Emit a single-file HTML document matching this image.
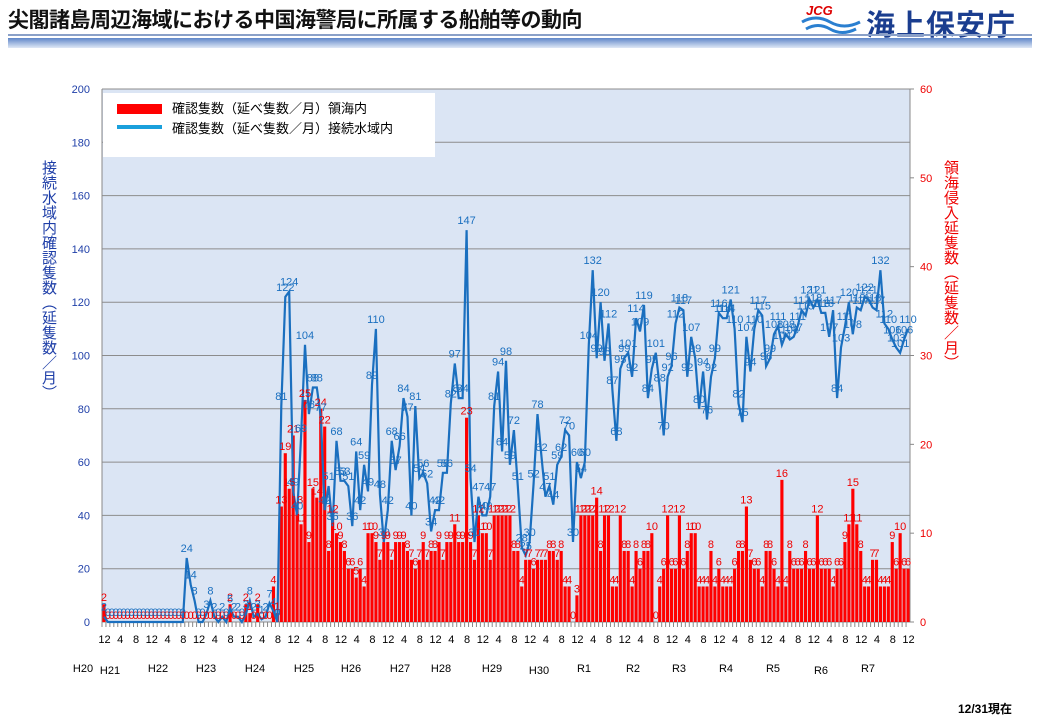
<!DOCTYPE html>
<html><head><meta charset="utf-8">
<style>
body{margin:0;width:1040px;height:720px;background:#fff;overflow:hidden;font-family:"Liberation Sans","Noto Sans CJK JP",sans-serif;position:relative}
.title{position:absolute;left:8px;top:4px;font-size:21px;font-weight:bold;color:#111;letter-spacing:-0.5px}
.logo{position:absolute;left:866px;top:2px;font-size:29px;font-weight:bold;color:#1a3d8f;letter-spacing:1px}
.jcg{position:absolute;left:806px;top:3px;font-size:13px;font-weight:bold;font-style:italic;color:#d00}
.bar1{position:absolute;left:8px;top:34px;width:1024px;height:2px;background:#8aa0c8}
.bar2{position:absolute;left:8px;top:38px;width:1024px;height:10px;background:linear-gradient(#5f86c8,#dfe8f6)}
.vt{position:absolute;writing-mode:vertical-rl;font-size:15px}
.note{position:absolute;left:958px;top:700px;font-size:12px;font-weight:bold}
</style></head><body>
<div class="title">尖閣諸島周辺海域における中国海警局に所属する船舶等の動向</div>
<div class="jcg">JCG</div>
<svg style="position:absolute;left:800px;top:16px" width="62" height="20"><path d="M2 6 Q16 -2 30 6 Q44 14 60 6" stroke="#2a7fd0" stroke-width="3" fill="none"/><path d="M6 13 Q18 6 30 13 Q42 20 56 13" stroke="#2a7fd0" stroke-width="3" fill="none"/></svg>
<div class="logo">海上保安庁</div>
<div class="bar1"></div><div class="bar2"></div>
<div class="vt" style="left:38px;top:160px;color:#1f3fa8">接続水域内確認隻数（延隻数／月）</div>
<div class="vt" style="left:940px;top:160px;color:#e00">領海侵入延隻数（延隻数／月）</div>
<div class="note">12/31現在</div>
<svg id="c" style="position:absolute;left:0;top:0" width="1040" height="720"></svg>
<script>
var red=[2,
0,0,0,0,0,0,0,0,0,0,0,0,
0,0,0,0,0,0,0,0,0,0,0,0,
0,0,0,0,0,0,0,2,0,0,0,2,
1,0,2,0,0,0,4,1,13,19,15,21,
13,11,25,9,15,14,24,22,8,12,10,9,
8,6,6,5,6,4,10,10,9,7,9,9,
7,9,9,9,8,7,6,7,9,7,8,8,
9,7,9,9,11,9,9,23,9,7,12,10,
10,7,12,12,12,12,12,8,8,4,7,7,
6,7,7,7,8,8,7,8,4,4,0,3,
12,12,12,12,14,8,12,12,4,4,12,8,
8,4,8,6,8,8,10,0,4,6,12,6,
6,12,6,8,10,10,4,4,4,8,4,6,
4,4,4,6,8,8,13,7,6,6,4,8,
8,6,4,16,4,8,6,6,6,8,6,6,
12,6,6,6,4,6,6,9,11,15,11,8,
4,4,7,7,4,4,4,9,6,10,6,6];
var blue=[2,
0,0,0,0,0,0,0,0,0,0,0,0,
0,0,0,0,0,0,0,0,24,14,8,0,
0,3,8,2,0,2,0,5,2,2,0,3,
8,2,3,1,2,7,4,0,81,122,124,49,
40,69,104,78,88,88,77,42,51,36,68,53,
53,51,36,64,42,59,49,89,110,48,30,42,
68,57,66,84,77,40,81,54,56,52,34,42,
42,56,56,82,97,84,84,147,54,30,47,40,
40,47,81,94,64,98,59,72,51,28,25,30,
52,78,62,47,51,44,59,62,72,70,30,60,
54,60,104,132,99,120,98,112,87,68,95,99,
101,92,114,109,119,84,95,101,88,70,92,96,
112,118,117,92,107,99,80,94,76,92,99,116,
114,114,121,110,82,75,107,94,110,117,115,96,
99,108,111,104,108,106,107,111,117,115,121,118,
121,116,116,107,117,84,103,111,120,108,118,117,
122,121,118,117,132,112,110,106,103,101,106,110];
var L=102,R=910,T=89,B=622,N=205,w=(R-L)/N;
function X(i){return L+(i+0.5)*w}
function YL(v){return B-v*(B-T)/200}
function YR(v){return B-v*(B-T)/60}
var s='<rect x="'+L+'" y="'+T+'" width="'+(R-L)+'" height="'+(B-T)+'" fill="#dbe5f4"/>';
for(var v=0;v<=200;v+=20){var y=YL(v);s+='<line x1="'+L+'" x2="'+R+'" y1="'+y+'" y2="'+y+'" stroke="#8c8c8c" stroke-width="1"/>';
s+='<text x="90" y="'+(y+4)+'" font-size="11" fill="#1f3fa8" text-anchor="end">'+v+'</text>';}
for(var v=0;v<=60;v+=10){var y=YR(v);s+='<line x1="'+R+'" x2="'+(R+4)+'" y1="'+y+'" y2="'+y+'" stroke="#888"/><text x="920" y="'+(y+4)+'" font-size="11" fill="#e00">'+v+'</text>';}
s+='<line x1="'+L+'" x2="'+L+'" y1="'+T+'" y2="'+B+'" stroke="#888"/><line x1="'+R+'" x2="'+R+'" y1="'+T+'" y2="'+B+'" stroke="#888"/>';
for(var i=0;i<N;i++){var h=red[i]*(B-T)/60;if(h>0)s+='<rect x="'+(L+i*w+0.4)+'" y="'+(B-h)+'" width="'+(w-0.8)+'" height="'+h+'" fill="#f00"/>';
s+='<line x1="'+(L+i*w)+'" x2="'+(L+i*w)+'" y1="'+B+'" y2="'+(B+5)+'" stroke="#888"/>';}
var p='';for(var i=0;i<N;i++)p+=(i?'L':'M')+X(i).toFixed(1)+' '+YL(blue[i]).toFixed(1);
s+='<path d="'+p+'" fill="none" stroke="#1a6fbf" stroke-width="2.2"/>';
for(var i=0;i<N;i++){s+='<text x="'+X(i)+'" y="'+(YR(red[i])-3)+'" font-size="11" fill="#e00" text-anchor="middle">'+red[i]+'</text>';
s+='<text x="'+X(i)+'" y="'+(YL(blue[i])-6)+'" font-size="11" fill="#1a6fbf" text-anchor="middle">'+blue[i]+'</text>';}
var m=[12,4,8];for(var k=0;k<52;k++){s+='<text x="'+(X(k*4)+0.5)+'" y="643" font-size="11" text-anchor="middle">'+m[k%3]+'</text>';}
var yl=[["H20",83,672],["H21",110,674],["H22",158,672],["H23",206,672],["H24",255,672],["H25",304,672],["H26",351,672],["H27",400,672],["H28",441,672],["H29",492,672],["H30",539,674],["R1",584,672],["R2",633,672],["R3",679,672],["R4",726,672],["R5",773,672],["R6",821,674],["R7",868,672]];
yl.forEach(function(a){s+='<text x="'+a[1]+'" y="'+a[2]+'" font-size="11" text-anchor="middle">'+a[0]+'</text>'});
s+='<rect x="103" y="93" width="332" height="64" fill="#fff"/>';
s+='<rect x="117" y="104" width="45" height="10" fill="#f00"/><text x="172" y="113" font-size="13">確認隻数（延べ隻数／月）領海内</text>';
s+='<rect x="117" y="125" width="45" height="4" fill="#1aa0dc"/><text x="172" y="133" font-size="13">確認隻数（延べ隻数／月）接続水域内</text>';
document.getElementById('c').innerHTML=s;
</script>
</body></html>
